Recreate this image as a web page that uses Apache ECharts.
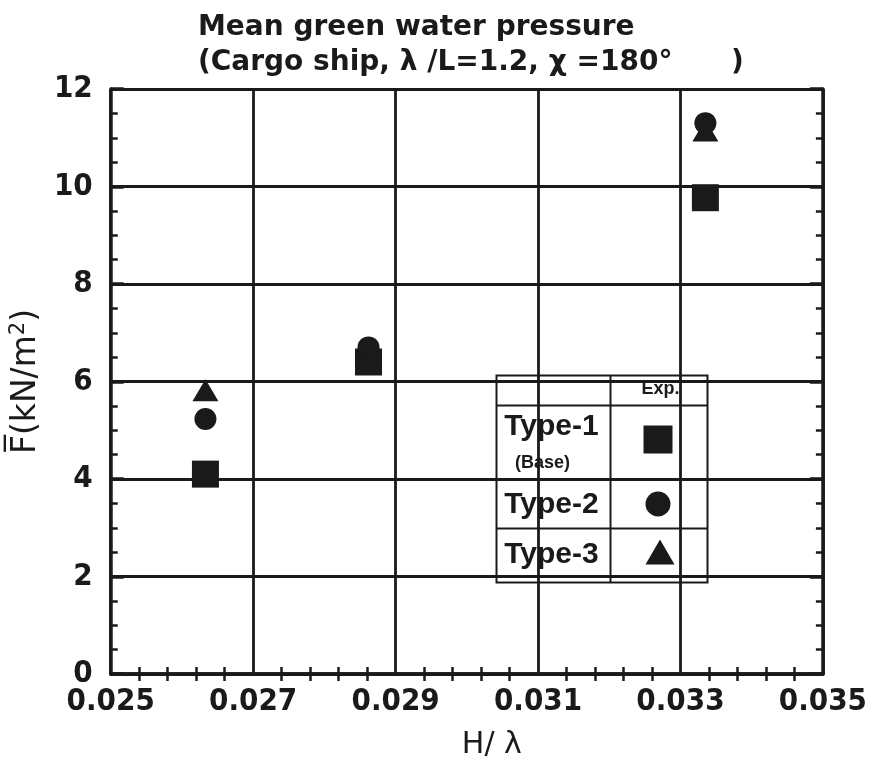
<!DOCTYPE html>
<html>
<head>
<meta charset="utf-8">
<script src="https://cdn.jsdelivr.net/npm/echarts@6/dist/echarts.min.js"></script>
<style>
html, body { margin: 0; padding: 0; background: #fff; }
#chart { width: 870px; height: 768px; }
</style>
</head>
<body>
<div id="chart"></div>
<script>
// Wave steepness H/lambda for the three test conditions
const steepness = [0.02633, 0.02862, 0.03335];
// Mean green water pressure (kN/m^2) per bulwark type
const type1 = [4.10, 6.40, 9.77];
const type2 = [5.23, 6.70, 11.30];
const type3 = [5.82, 6.55, 11.15];
const xTicks = [0.025, 0.027, 0.029, 0.031, 0.033, 0.035];
const yTicks = [0, 2, 4, 6, 8, 10, 12];

const NUM_FONT = '"DejaVu Sans Condensed", "Liberation Sans", sans-serif';
const TITLE_FONT = '"DejaVu Sans", sans-serif';
const BOX_FONT = '"Liberation Sans", Arial, sans-serif';
const INK = '#1a1a1a';

const pts = ys => steepness.map((x, i) => [x, ys[i]]);

const chart = echarts.init(document.getElementById('chart'));

const frame = { axisLine: { show: true, lineStyle: { color: INK, width: 3.5 } } };

chart.setOption({
  animation: false,
  title: {
    text: 'Mean green water pressure\n(Cargo ship, λ /L=1.2, χ =180°      )',
    left: 193, top: 5,
    textStyle: { fontFamily: TITLE_FONT, fontSize: 28, fontWeight: 'bold', color: INK, lineHeight: 35 }
  },
  grid: { left: 103, right: 45, top: 89, bottom: 94 },
  xAxis: [{
    type: 'value', min: xTicks[0], max: xTicks[xTicks.length - 1], interval: 0.002,
    position: 'bottom',
    name: 'H/ λ', nameLocation: 'middle', nameGap: 56,
    nameTextStyle: { fontFamily: TITLE_FONT, fontSize: 30, color: INK, padding: [0, 0, 0, 50] },
    ...frame,
    axisTick: { show: false },
    minorTick: { show: true, splitNumber: 5, length: 7, lineStyle: { color: INK, width: 2.5 } },
    axisLabel: {
      formatter: v => v.toFixed(3), margin: 12,
      fontFamily: NUM_FONT, fontSize: 31, fontWeight: 'bold', color: INK
    },
    splitLine: { show: true, lineStyle: { color: INK, width: 2.8 } }
  }, {
    type: 'value', min: xTicks[0], max: xTicks[xTicks.length - 1], interval: 0.002,
    position: 'top',
    ...frame,
    axisTick: { show: false },
    minorTick: { show: true, splitNumber: 5, length: 7, lineStyle: { color: INK, width: 2.5 } },
    axisLabel: { show: false },
    splitLine: { show: false }
  }],
  yAxis: [{
    type: 'value', min: yTicks[0], max: yTicks[yTicks.length - 1], interval: 2,
    position: 'left',
    name: '{t|F\u0305(kN/m}{s|2}{t|)}', nameLocation: 'middle', nameGap: 58,
    nameTextStyle: {
      rich: {
        t: { fontFamily: TITLE_FONT, fontSize: 33, color: INK },
        s: { fontFamily: TITLE_FONT, fontSize: 21, color: INK, verticalAlign: 'top', padding: [0, 0, 16, 0] }
      }
    },
    ...frame,
    axisTick: { show: true, inside: true, length: 13, lineStyle: { color: INK, width: 3.5 } },
    minorTick: { show: true, splitNumber: 4, length: 7, lineStyle: { color: INK, width: 2.5 } },
    axisLabel: { margin: 18, fontFamily: NUM_FONT, fontSize: 31, fontWeight: 'bold', color: INK },
    splitLine: { show: true, lineStyle: { color: INK, width: 2.8 } }
  }, {
    type: 'value', min: yTicks[0], max: yTicks[yTicks.length - 1], interval: 2,
    position: 'right',
    ...frame,
    axisTick: { show: true, inside: true, length: 13, lineStyle: { color: INK, width: 3.5 } },
    minorTick: { show: true, splitNumber: 4, length: 7, lineStyle: { color: INK, width: 2.5 } },
    axisLabel: { show: false },
    splitLine: { show: false }
  }],
  series: [
    { name: 'Type-1', type: 'scatter', symbol: 'rect', symbolSize: 27, data: pts(type1), itemStyle: { color: INK, opacity: 1 }, z: 3 },
    { name: 'Type-3', type: 'scatter', symbol: 'triangle', symbolSize: [26, 22], data: pts(type3), itemStyle: { color: INK, opacity: 1 }, z: 3 },
    { name: 'Type-2', type: 'scatter', symbol: 'circle', symbolSize: 22, data: pts(type2), itemStyle: { color: INK, opacity: 1 }, z: 3 }
  ],
  graphic: [{
    type: 'group', left: 494, top: 373, z: 10,
    children: [
      { type: 'rect', shape: { x: 0, y: 0, width: 211, height: 207 }, style: { fill: '#fff', stroke: INK, lineWidth: 2 } },
      { type: 'line', shape: { x1: 114, y1: 0, x2: 114, y2: 207 }, style: { stroke: INK, lineWidth: 2 } },
      { type: 'line', shape: { x1: 0, y1: 30, x2: 211, y2: 30 }, style: { stroke: INK, lineWidth: 2 } },
      { type: 'line', shape: { x1: 0, y1: 104, x2: 211, y2: 104 }, style: { stroke: INK, lineWidth: 2 } },
      { type: 'line', shape: { x1: 0, y1: 153, x2: 211, y2: 153 }, style: { stroke: INK, lineWidth: 2 } },
      { type: 'text', x: 164, y: 14, style: { text: 'Exp.', fontFamily: BOX_FONT, fontSize: 18, fontWeight: 'bold', fill: INK, align: 'center', verticalAlign: 'middle' } },
      { type: 'text', x: 55, y: 51, style: { text: 'Type-1', fontFamily: BOX_FONT, fontSize: 30, fontWeight: 'bold', fill: INK, align: 'center', verticalAlign: 'middle' } },
      { type: 'text', x: 46, y: 88, style: { text: '(Base)', fontFamily: BOX_FONT, fontSize: 18, fontWeight: 'bold', fill: INK, align: 'center', verticalAlign: 'middle' } },
      { type: 'text', x: 55, y: 129, style: { text: 'Type-2', fontFamily: BOX_FONT, fontSize: 30, fontWeight: 'bold', fill: INK, align: 'center', verticalAlign: 'middle' } },
      { type: 'text', x: 55, y: 179, style: { text: 'Type-3', fontFamily: BOX_FONT, fontSize: 30, fontWeight: 'bold', fill: INK, align: 'center', verticalAlign: 'middle' } },
      { type: 'rect', shape: { x: 147, y: 50, width: 29, height: 28 }, style: { fill: INK } },
      { type: 'circle', shape: { cx: 161.5, cy: 128.5, r: 12.5 }, style: { fill: INK } },
      { type: 'polygon', shape: { points: [[163.5, 164], [178, 189], [149, 189]] }, style: { fill: INK } }
    ]
  }]
});
</script>
</body>
</html>
